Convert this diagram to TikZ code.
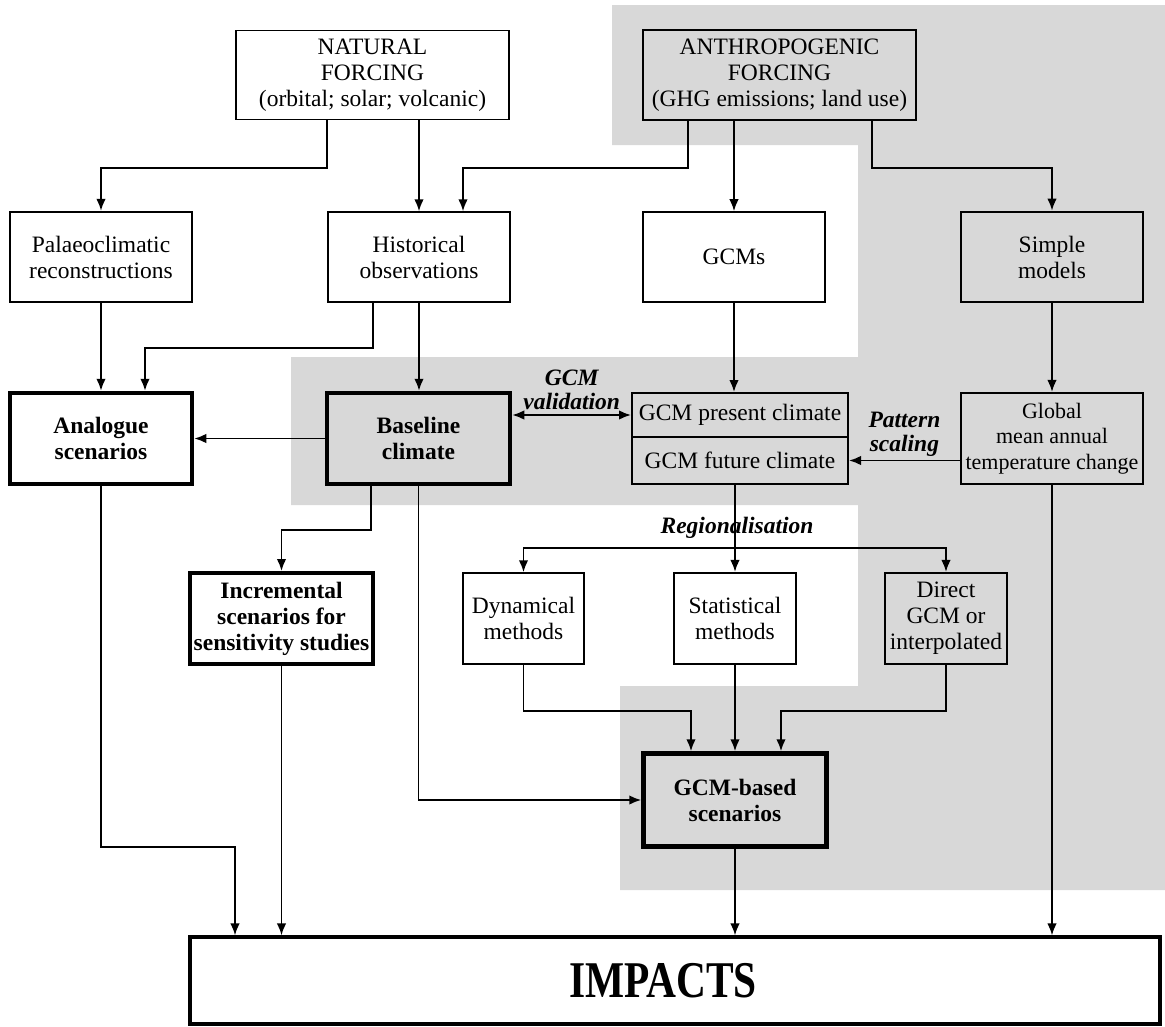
\documentclass[tikz,border=0pt]{standalone}
\usepackage{fontspec}
\setmainfont{Liberation Serif}
\usetikzlibrary{arrows.meta,calc}
\definecolor{bgray}{RGB}{216,216,216}
\begin{document}
\begin{tikzpicture}[x=1pt,y=-1pt,
  tx/.style={font=\fontsize{23.5}{26}\selectfont},
  box/.style={draw, align=center, inner sep=0pt, tx, line width=#1},
  box/.default=1.4pt,
  bold/.style={font=\fontsize{23.5}{26}\selectfont\bfseries},
  arr/.style={line width=1.8pt, -{Latex[length=12pt,width=9.5pt]}},
  arrboth/.style={line width=1.8pt, {Latex[length=12pt,width=9.5pt]}-{Latex[length=12pt,width=9.5pt]}},
  lab/.style={align=center, inner sep=0pt, font=\fontsize{23.5}{24}\selectfont\bfseries\itshape}]
\useasboundingbox (0,0) rectangle (1165,1026);
\fill[white] (0,0) rectangle (1165,1026);
% grey background regions
\fill[bgray] (612,5) -- (1165,5) -- (1165,890) -- (620,890) -- (620,686) -- (858,686)
  -- (858,505) -- (291,505) -- (291,357) -- (858,357) -- (858,145) -- (612,145) -- cycle;

% nodes
\node[box=1.4pt, minimum width=273, minimum height=89] (nat) at (372.5,75) {NATURAL\\FORCING\\(orbital; solar; volcanic)};
\node[box=1.7pt, minimum width=273, minimum height=90] (ant) at (779.5,75) {ANTHROPOGENIC\\FORCING\\(GHG emissions; land use)};
\node[box=2.3pt, minimum width=182, minimum height=90] (pal) at (101,257) {Palaeoclimatic\\reconstructions};
\node[box=1.4pt, minimum width=182, minimum height=90] (his) at (419,257) {Historical\\observations};
\node[box=1.6pt, minimum width=182, minimum height=90] (gcms) at (734,257) {GCMs};
\node[box=2.8pt, minimum width=182, minimum height=90] (sim) at (1052,257) {Simple\\models};
\node[box=4.5pt, bold, minimum width=182, minimum height=91] (ana) at (101,438.5) {Analogue\\scenarios};
\node[box=4.5pt, bold, minimum width=183, minimum height=91] (base) at (418.5,438.5) {Baseline\\climate};
\node[box=2pt, minimum width=216, minimum height=44] (gcmp) at (740,415) {GCM present climate};
\node[box=2pt, minimum width=216, minimum height=47] (gcmf) at (740,460.5) {GCM future climate};
\node[box=2.2pt, minimum width=182, minimum height=91, font=\fontsize{22}{25.5}\selectfont] (glob) at (1052,438.5) {Global\\mean annual\\temperature change};
\node[box=4pt, bold, minimum width=183, minimum height=91] (inc) at (281.5,618.5) {Incremental\\scenarios for\\sensitivity studies};
\node[box=1.5pt, minimum width=121, minimum height=91] (dyn) at (523.5,618.5) {Dynamical\\methods};
\node[box=2.2pt, minimum width=122, minimum height=91] (sta) at (735,618.5) {Statistical\\methods};
\node[box=2.2pt, minimum width=122, minimum height=91] (dir) at (946,618.5) {Direct\\GCM or\\interpolated};
\node[box=4.5pt, bold, minimum width=183, minimum height=93] (gcmb) at (735,800) {GCM-based\\scenarios};
\node[box=3.2pt, minimum width=970, minimum height=87, font=\fontsize{46}{50}\selectfont\bfseries] (imp) at (675,980.5) {\hspace*{-24pt}\scalebox{0.9}[1.12]{IMPACTS}};

% connectors
\draw[arr] (nat.south -| his.west) -- ++(0,48) -| (pal.north);
\draw[arr] (nat.south -| his.north) -- (his.north);
\draw[arr] ([xshift=-91.5pt]ant.south) -- ++(0,47) -| ([xshift=44pt]his.north);
\draw[arr] (ant.south -| gcms.north) -- (gcms.north);
\draw[arr] ([xshift=92.5pt]ant.south) -- ++(0,47) -| (sim.north);
\draw[arr] (pal.south) -- (ana.north);
\draw[arr] ([xshift=-46pt]his.south) -- ++(0,45) -| ([xshift=44pt]ana.north);
\draw[arr] (his.south) -- (his.south |- base.north);
\draw[arr] (gcms.south) -- (gcms.south |- gcmp.north);
\draw[arr] (sim.south) -- (glob.north);
\draw[arr] (base.west) -- (ana.east);
\draw[arrboth] (base.east |- gcmp.west) -- (gcmp.west) node[lab, midway, above=4pt] (valid) {GCM\\validation};
\draw[arr] (glob.west |- gcmf.east) -- (gcmf.east) node[lab, midway, above=3pt] (patt) {Pattern\\scaling};
\draw[arr] ([xshift=-47.5pt]base.south) -- ++(0,44) -| (inc.north);
\draw[arr] (base.south) -- (base.south |- gcmb.west) -- (gcmb.west);
\draw[arr] (gcmf.south -| sta.north) -- (sta.north);
\coordinate (reg) at ($(gcmf.south -| sta.north)+(0,63)$);
\draw[arr] (reg) -| (dyn.north);
\draw[arr] (reg) -| (dir.north);
\node[lab] (regl) at (737,528) {Regionalisation};
\draw[arr] (dyn.south) -- ++(0,46) -| ([xshift=-44pt]gcmb.north);
\draw[arr] (sta.south) -- (gcmb.north);
\draw[arr] (dir.south) -- ++(0,46) -| ([xshift=46pt]gcmb.north);
\draw[arr] (ana.south) -- ++(0,361) -| ([xshift=-440pt]imp.north);
\draw[arr] (inc.south) -- (inc.south |- imp.north);
\draw[arr] (gcmb.south) -- (gcmb.south |- imp.north);
\draw[arr] (glob.south) -- (glob.south |- imp.north);
\end{tikzpicture}
\end{document}
